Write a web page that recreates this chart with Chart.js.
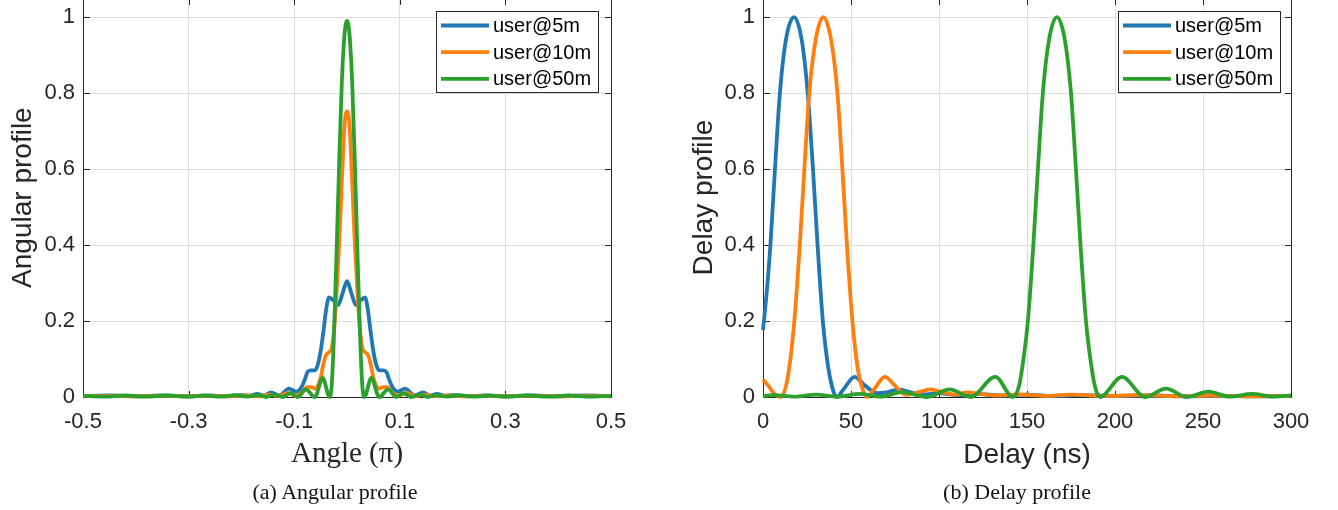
<!DOCTYPE html>
<html><head><meta charset="utf-8">
<script src="https://cdn.jsdelivr.net/npm/chart.js@4.4.0/dist/chart.umd.min.js"></script>
<style>
html,body{margin:0;padding:0;background:#fff;width:1338px;height:510px;overflow:hidden;position:relative}
.wrap{position:absolute}
.cap{position:absolute;font-family:"Liberation Serif","Times New Roman",serif;font-size:22px;color:#111;white-space:nowrap;transform:translate(-50%,-50%)}
</style></head><body>
<div class="wrap" style="left:0;top:-23px;width:650px;height:510px"><canvas id="ca" width="650" height="510"></canvas></div>
<div class="wrap" style="left:650px;top:-23px;width:688px;height:510px"><canvas id="cb" width="688" height="510"></canvas></div>
<div class="cap" style="left:335px;top:492px">(a) Angular profile</div>
<div class="cap" style="left:1017px;top:492px">(b) Delay profile</div>
<script>
// ---------- data ----------
const seriesNames = ['user@5m','user@10m','user@50m'];
const seriesColors = ['#1f77b4','#ff7f0e','#2ca02c'];

const angleTickVals = [-0.5,-0.3,-0.1,0.1,0.3,0.5];
const angleTickLabels = ['-0.5','-0.3','-0.1','0.1','0.3','0.5'];
const delayTickVals = [0,50,100,150,200,250,300];
const delayTickLabels = ['0','50','100','150','200','250','300'];
const profTickVals = [0,0.2,0.4,0.6,0.8,1];
const profTickLabels = ['0','0.2','0.4','0.6','0.8','1'];

const ang5X = [-0.5,-0.45,-0.4,-0.35,-0.3,-0.26,-0.23,-0.2,-0.185,-0.17,-0.157,-0.144,-0.128,-0.11,-0.096,-0.087,-0.08,-0.075,-0.069,-0.062,-0.056,-0.05,-0.044,-0.039,-0.034,-0.026,-0.017,-0.008,0,0.008,0.017,0.026,0.034,0.039,0.044,0.05,0.056,0.062,0.069,0.075,0.08,0.087,0.096,0.11,0.128,0.144,0.157,0.17,0.185,0.2,0.23,0.26,0.3,0.35,0.4,0.45,0.5];
const ang5Y = [0.002,0.004,0.002,0.004,0.002,0.004,0.002,0.005,0.003,0.008,0.004,0.012,0.004,0.022,0.014,0.024,0.045,0.065,0.07,0.07,0.082,0.12,0.18,0.235,0.262,0.255,0.242,0.275,0.305,0.275,0.242,0.255,0.262,0.235,0.18,0.12,0.082,0.07,0.07,0.065,0.045,0.024,0.014,0.022,0.004,0.012,0.004,0.008,0.003,0.005,0.002,0.004,0.002,0.004,0.002,0.004,0.002];

const ang10X = [-0.5,-0.45,-0.4,-0.35,-0.3,-0.26,-0.22,-0.19,-0.165,-0.145,-0.13,-0.112,-0.098,-0.085,-0.076,-0.068,-0.061,-0.055,-0.05,-0.045,-0.04,-0.035,-0.03,-0.025,-0.02,-0.015,-0.01,-0.005,0,0.005,0.01,0.015,0.02,0.025,0.03,0.035,0.04,0.045,0.05,0.055,0.061,0.068,0.076,0.085,0.098,0.112,0.13,0.145,0.165,0.19,0.22,0.26,0.3,0.35,0.4,0.45,0.5];
const ang10Y = [0.002,0.003,0.002,0.003,0.002,0.003,0.002,0.004,0.002,0.006,0.003,0.01,0.004,0.012,0.026,0.026,0.022,0.03,0.05,0.085,0.11,0.117,0.125,0.17,0.27,0.4,0.56,0.71,0.752,0.71,0.56,0.4,0.27,0.17,0.125,0.117,0.11,0.085,0.05,0.03,0.022,0.026,0.026,0.012,0.004,0.01,0.003,0.006,0.002,0.004,0.002,0.003,0.002,0.003,0.002,0.003,0.002];

const ang50X = [-0.5,-0.46,-0.42,-0.38,-0.34,-0.3,-0.27,-0.24,-0.21,-0.19,-0.168,-0.153,-0.138,-0.122,-0.107,-0.093,-0.078,-0.061,-0.046,-0.033,-0.029,-0.025,-0.02,-0.015,-0.01,-0.005,0,0.005,0.01,0.015,0.02,0.025,0.029,0.033,0.046,0.061,0.078,0.093,0.107,0.122,0.138,0.153,0.168,0.19,0.21,0.24,0.27,0.3,0.34,0.38,0.42,0.46,0.5];
const ang50Y = [0.003,0.001,0.004,0.001,0.004,0.001,0.004,0.001,0.005,0.001,0.005,0,0.006,0,0.01,0,0.02,0,0.05,0,0.03,0.15,0.37,0.61,0.82,0.95,0.99,0.95,0.82,0.61,0.37,0.15,0.03,0,0.05,0,0.02,0,0.01,0,0.006,0,0.005,0.001,0.005,0.001,0.004,0.001,0.004,0.001,0.004,0.001,0.003];

const del5X = [0,2,4.2,6.8,9.6,13,17.6,22,25.4,28.4,31,34,37,40,42,46,52,58,65,71,77,84,91,100,110,122,135,150,165,180,200,220,240,260,280,300];
const del5Y = [0.176,0.27,0.4,0.6,0.8,0.94,1,0.94,0.8,0.6,0.4,0.2,0.08,0.015,0,0.022,0.053,0.03,0.01,0.013,0.02,0.012,0.006,0.01,0.005,0.008,0.004,0.006,0.003,0.005,0.003,0.004,0.002,0.003,0.002,0.003];

const del10X = [0,3,6.5,10,14,17.8,20.9,23.5,26.3,29.9,34.3,38.7,42.3,45.1,47.7,50.8,54,57,59,63,69.3,75,81,88,95,102,109,116,124,133,145,160,175,195,215,235,255,275,300];
const del10Y = [0.045,0.03,0.008,0,0.05,0.2,0.4,0.6,0.8,0.94,1,0.94,0.8,0.6,0.4,0.2,0.07,0.015,0,0.02,0.053,0.03,0.006,0.012,0.02,0.013,0.006,0.012,0.008,0.004,0.007,0.003,0.006,0.003,0.005,0.002,0.004,0.002,0.003];

const del50X = [0,6,18,30,42,55,67,79,93,106,118,132,142,145.5,148,150.5,153.6,156.2,159,162.5,167,171.5,175,177.8,180.4,183.5,186,188.5,191.5,204,217,229,241,253,265,278,290,300];
const del50Y = [0.003,0.005,0.001,0.006,0.001,0.008,0.001,0.013,0,0.02,0,0.053,0,0.03,0.1,0.2,0.4,0.6,0.8,0.94,1,0.94,0.8,0.6,0.4,0.2,0.1,0.03,0,0.053,0,0.022,0,0.014,0.001,0.008,0.001,0.004];

// ---------- helpers ----------
const pts = (xs, ys) => xs.map((x, i) => ({x: x, y: ys[i]}));
const AX = '#262626';
const SANS = '"Liberation Sans", Arial, Helvetica, sans-serif';
const SERIF = '"Liberation Serif", "Times New Roman", serif';
const LW = 3.8;

const frame = {
  id: 'frame',
  beforeDatasetsDraw(chart) {
    const {ctx, chartArea: a, scales: {x, y}} = chart;
    ctx.save();
    ctx.strokeStyle = AX; ctx.lineWidth = 1;
    const l = Math.round(a.left) + 0.5, r = Math.round(a.right) + 0.5;
    const t = Math.round(a.top) + 0.5, b = Math.round(a.bottom) + 0.5;
    ctx.strokeRect(l, t, r - l, b - t);
    const L = 6.5;
    ctx.beginPath();
    x.ticks.forEach(tk => {
      const p = Math.round(x.getPixelForValue(tk.value)) + 0.5;
      ctx.moveTo(p, b); ctx.lineTo(p, b - L);
      ctx.moveTo(p, t); ctx.lineTo(p, t + L);
    });
    y.ticks.forEach(tk => {
      const p = Math.round(y.getPixelForValue(tk.value)) + 0.5;
      ctx.moveTo(l, p); ctx.lineTo(l + L, p);
      ctx.moveTo(r, p); ctx.lineTo(r - L, p);
    });
    ctx.stroke();
    ctx.restore();
  }
};

const boxLegend = {
  id: 'boxLegend',
  afterDatasetsDraw(chart, args, opts) {
    const {ctx, chartArea: a} = chart;
    const w = 162, h = 81;
    const x0 = Math.round(a.right - opts.right - w), y0 = Math.round(a.top + 13);
    ctx.save();
    ctx.fillStyle = '#fff'; ctx.fillRect(x0, y0, w, h);
    ctx.strokeStyle = AX; ctx.lineWidth = 1; ctx.strokeRect(x0 + 0.5, y0 + 0.5, w, h);
    ctx.font = '20px ' + SANS; ctx.textBaseline = 'middle'; ctx.textAlign = 'left';
    chart.data.datasets.forEach((d, i) => {
      const yy = y0 + 14.5 + i * 26.7;
      ctx.strokeStyle = d.borderColor; ctx.lineWidth = LW;
      ctx.beginPath(); ctx.moveTo(x0 + 5, yy); ctx.lineTo(x0 + 53, yy); ctx.stroke();
      ctx.fillStyle = '#000';
      ctx.fillText(d.label, x0 + 57, yy + 1);
    });
    ctx.restore();
  }
};

function makeDatasets(list) {
  return list.map((s, i) => ({
    label: seriesNames[i],
    data: pts(s[0], s[1]),
    borderColor: seriesColors[i],
    backgroundColor: seriesColors[i],
    borderWidth: LW,
    pointRadius: 0,
    fill: false,
    cubicInterpolationMode: 'monotone',
    clip: 8,
    order: 2 - i
  }));
}

function makeChart(id, cfg) {
  return new Chart(document.getElementById(id), {
    type: 'line',
    data: {datasets: makeDatasets(cfg.series)},
    options: {
      responsive: false, animation: false, devicePixelRatio: 1,
      layout: {padding: {left: 0, right: cfg.padRight, top: 20, bottom: 0}},
      plugins: {legend: {display: false}, tooltip: {enabled: false}, boxLegend: {right: cfg.legendRight}},
      scales: {
        x: {
          type: 'linear', min: cfg.xMin, max: cfg.xMax,
          afterBuildTicks: s => { s.ticks = cfg.xTicks.map(v => ({value: v})); },
          afterFit: s => { s.height = 90; },
          ticks: {autoSkip: false, maxRotation: 0, padding: 12, color: AX,
                  font: {family: SANS, size: 22},
                  callback: (v, i) => cfg.xLabels[i]},
          grid: {color: '#dedede', lineWidth: 1, drawTicks: false},
          border: {display: false},
          title: {display: true, text: cfg.xTitle, color: AX,
                  font: {family: cfg.xTitleFont, size: cfg.xTitleSize},
                  padding: {top: 0, bottom: 15}}
        },
        y: {
          type: 'linear', min: 0, max: 1.05,
          afterBuildTicks: s => { s.ticks = profTickVals.map(v => ({value: v})); },
          afterFit: s => { s.width = cfg.yWidth; },
          ticks: {autoSkip: false, padding: 8, color: AX,
                  font: {family: SANS, size: 22},
                  callback: (v, i) => profTickLabels[i]},
          grid: {color: '#dedede', lineWidth: 1, drawTicks: false},
          border: {display: false},
          title: {display: true, text: cfg.yTitle, color: AX,
                  font: {family: SANS, size: 28},
                  padding: {top: cfg.yTitlePad, bottom: 0}}
        }
      }
    },
    plugins: [frame, boxLegend]
  });
}

makeChart('ca', {
  series: [[ang5X, ang5Y], [ang10X, ang10Y], [ang50X, ang50Y]],
  xMin: -0.5, xMax: 0.5, xTicks: angleTickVals, xLabels: angleTickLabels,
  xTitle: 'Angle (π)', xTitleFont: SERIF, xTitleSize: 29,
  yTitle: 'Angular profile', yWidth: 83, yTitlePad: 6,
  padRight: 39, legendRight: 13
});
makeChart('cb', {
  series: [[del5X, del5Y], [del10X, del10Y], [del50X, del50Y]],
  xMin: 0, xMax: 300, xTicks: delayTickVals, xLabels: delayTickLabels,
  xTitle: 'Delay (ns)', xTitleFont: SANS, xTitleSize: 28,
  yTitle: 'Delay profile', yWidth: 113, yTitlePad: 37,
  padRight: 47, legendRight: 11
});
</script>
</body></html>
